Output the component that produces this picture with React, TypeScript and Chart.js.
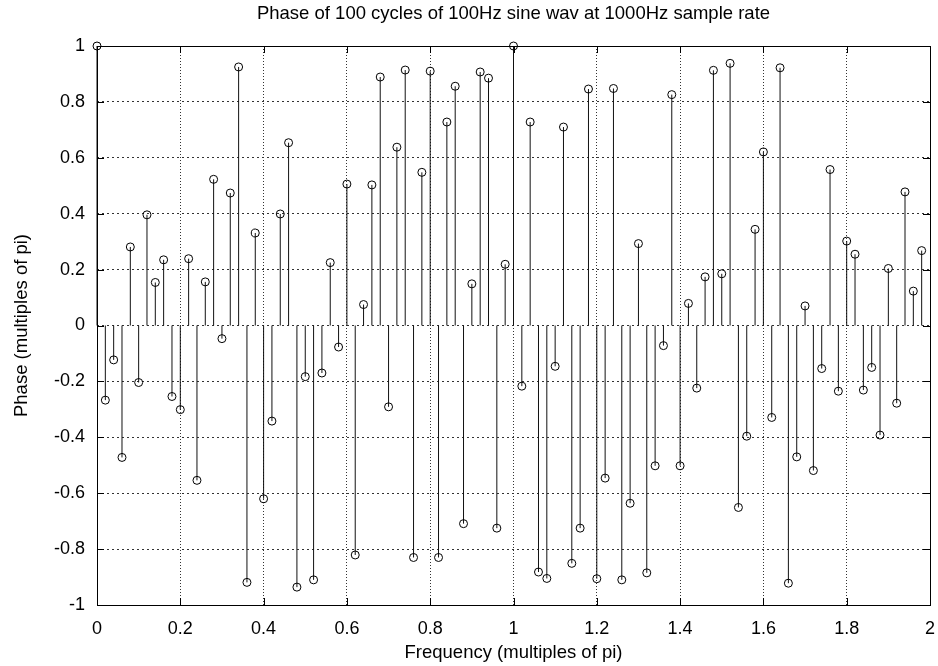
import React, { useEffect, useRef } from 'react';
import { Chart, registerables } from 'chart.js';

Chart.register(...registerables);

const titleText = 'Phase of 100 cycles of 100Hz sine wav at 1000Hz sample rate';
const xAxisTitle = 'Frequency (multiples of pi)';
const yAxisTitle = 'Phase (multiples of pi)';

const frequencies = [
  0, 0.02, 0.04, 0.06, 0.08, 0.1, 0.12, 0.14, 0.16, 0.18,
  0.2, 0.22, 0.24, 0.26, 0.28, 0.3, 0.32, 0.34, 0.36, 0.38,
  0.4, 0.42, 0.44, 0.46, 0.48, 0.5, 0.52, 0.54, 0.56, 0.58,
  0.6, 0.62, 0.64, 0.66, 0.68, 0.7, 0.72, 0.74, 0.76, 0.78,
  0.8, 0.82, 0.84, 0.86, 0.88, 0.9, 0.92, 0.94, 0.96, 0.98,
  1.0, 1.02, 1.04, 1.06, 1.08, 1.1, 1.12, 1.14, 1.16, 1.18,
  1.2, 1.22, 1.24, 1.26, 1.28, 1.3, 1.32, 1.34, 1.36, 1.38,
  1.4, 1.42, 1.44, 1.46, 1.48, 1.5, 1.52, 1.54, 1.56, 1.58,
  1.6, 1.62, 1.64, 1.66, 1.68, 1.7, 1.72, 1.74, 1.76, 1.78,
  1.8, 1.82, 1.84, 1.86, 1.88, 1.9, 1.92, 1.94, 1.96, 1.98,
];

const phases = [
  1.0, -0.267, -0.123, -0.472, 0.281, -0.204, 0.396, 0.154, 0.235, -0.254,
  -0.301, 0.239, -0.554, 0.156, 0.523, -0.047, 0.474, 0.925, -0.919, 0.331,
  -0.62, -0.342, 0.399, 0.654, -0.936, -0.183, -0.91, -0.17, 0.225, -0.077,
  0.506, -0.821, 0.075, 0.503, 0.889, -0.291, 0.638, 0.914, -0.83, 0.548,
  0.91, -0.83, 0.728, 0.856, -0.709, 0.149, 0.907, 0.885, -0.725, 0.219,
  1.0, -0.217, 0.728, -0.882, -0.905, -0.146, 0.71, -0.851, -0.725, 0.846,
  -0.906, -0.546, 0.848, -0.91, -0.636, 0.293, -0.885, -0.502, -0.072, 0.826,
  -0.502, 0.079, -0.224, 0.174, 0.913, 0.185, 0.938, -0.651, -0.396, 0.344,
  0.621, -0.329, 0.922, -0.922, -0.47, 0.07, -0.519, -0.154, 0.558, -0.235,
  0.302, 0.255, -0.231, -0.15, -0.392, 0.204, -0.278, 0.478, 0.123, 0.268,
];

const xTickValues = [0, 0.2, 0.4, 0.6, 0.8, 1, 1.2, 1.4, 1.6, 1.8, 2];
const xTickLabels = ['0', '0.2', '0.4', '0.6', '0.8', '1', '1.2', '1.4', '1.6', '1.8', '2'];
const yTickValues = [-1, -0.8, -0.6, -0.4, -0.2, 0, 0.2, 0.4, 0.6, 0.8, 1];
const yTickLabels = ['-1', '-0.8', '-0.6', '-0.4', '-0.2', '0', '0.2', '0.4', '0.6', '0.8', '1'];

const FONT = '"Liberation Sans", Arial, Helvetica, sans-serif';
const TICK_LEN = 7;

const stemPlugin = {
  id: 'stemsAndFrame',
  beforeDatasetsDraw(chart: any) {
    const { ctx, scales } = chart;
    const xs = scales.x;
    const ys = scales.y;
    const y0 = ys.getPixelForValue(0);
    ctx.save();
    ctx.strokeStyle = '#111';
    ctx.lineWidth = 1;
    frequencies.forEach((f, i) => {
      const px = xs.getPixelForValue(f);
      const py = ys.getPixelForValue(phases[i]);
      ctx.beginPath();
      ctx.moveTo(px, y0);
      ctx.lineTo(px, py);
      ctx.stroke();
    });
    ctx.restore();
  },
  beforeDatasetDraw(chart: any) {
    const { ctx, chartArea, scales } = chart;
    const { left, right, top, bottom } = chartArea;
    ctx.save();
    ctx.strokeStyle = '#000';
    ctx.lineWidth = 1;
    ctx.setLineDash([]);
    ctx.beginPath();
    xTickValues.forEach((v) => {
      const px = Math.round(scales.x.getPixelForValue(v)) + 0.5;
      ctx.moveTo(px, bottom);
      ctx.lineTo(px, bottom - TICK_LEN);
      ctx.moveTo(px, top);
      ctx.lineTo(px, top + TICK_LEN);
    });
    yTickValues.forEach((v) => {
      const py = Math.round(scales.y.getPixelForValue(v)) + 0.5;
      ctx.moveTo(left, py);
      ctx.lineTo(left + TICK_LEN, py);
      ctx.moveTo(right, py);
      ctx.lineTo(right - TICK_LEN, py);
    });
    ctx.stroke();
    ctx.strokeRect(Math.round(left) + 0.5, Math.round(top) + 0.5, Math.round(right - left), Math.round(bottom - top));
    ctx.restore();
  },
};

export default function App() {
  const canvasRef = useRef<HTMLCanvasElement | null>(null);

  useEffect(() => {
    const canvas = canvasRef.current;
    if (!canvas) return;
    const chart = new Chart(canvas, {
      type: 'scatter',
      data: {
        datasets: [
          {
            data: frequencies.map((f, i) => ({ x: f, y: phases[i] })),
            pointRadius: 4,
            pointBorderWidth: 1,
            pointBorderColor: '#000',
            pointBackgroundColor: 'rgba(0,0,0,0)',
            showLine: false,
            clip: false,
          },
        ],
      },
      options: {
        animation: false,
        responsive: false,
        devicePixelRatio: 1,
        layout: { padding: { left: 0, right: 8, top: 0, bottom: 0 } },
        plugins: {
          legend: { display: false },
          tooltip: { enabled: false },
          title: {
            display: true,
            text: titleText,
            fullSize: false,
            color: '#000',
            font: { family: FONT, size: 18.5, weight: 'normal' },
            padding: { top: 3.2, bottom: 20.6 },
          },
        },
        scales: {
          x: {
            type: 'linear',
            min: 0,
            max: 2,
            afterBuildTicks: (s: any) => {
              s.ticks = xTickValues.map((v) => ({ value: v }));
            },
            afterFit: (s: any) => {
              s.height = 61;
              s.paddingLeft = 0;
              s.paddingRight = 0;
            },
            ticks: {
              autoSkip: false,
              maxRotation: 0,
              color: '#000',
              padding: 13,
              font: { family: FONT, size: 18 },
              callback: (v: any) => xTickLabels[xTickValues.indexOf(Number(v))] ?? '',
            },
            grid: { drawTicks: false, color: '#333', lineWidth: 1 },
            border: { display: false, dash: [1, 2] },
            title: {
              display: true,
              text: xAxisTitle,
              color: '#000',
              font: { family: FONT, size: 18.5 },
              padding: { top: 0, bottom: 2 },
            },
          },
          y: {
            type: 'linear',
            min: -1,
            max: 1,
            afterBuildTicks: (s: any) => {
              s.ticks = yTickValues.map((v) => ({ value: v }));
            },
            afterFit: (s: any) => {
              s.width = 97;
              s.paddingTop = 0;
              s.paddingBottom = 0;
            },
            ticks: {
              autoSkip: false,
              color: '#000',
              padding: 12,
              font: { family: FONT, size: 18 },
              callback: (v: any) => yTickLabels[yTickValues.indexOf(Number(v))] ?? '',
            },
            grid: { drawTicks: false, color: '#333', lineWidth: 1 },
            border: { display: false, dash: [2, 3] },
            title: {
              display: true,
              text: yAxisTitle,
              color: '#000',
              font: { family: FONT, size: 18.5 },
              padding: { top: 10.5, bottom: 0 },
            },
          },
        },
      },
      plugins: [stemPlugin],
    } as any);
    return () => chart.destroy();
  }, []);

  return (
    <div style={{ position: 'absolute', left: 0, top: 0, width: 938, height: 666, background: '#fff' }}>
      <canvas ref={canvasRef} width={938} height={666} style={{ display: 'block', width: 938, height: 666 }} />
    </div>
  );
}
